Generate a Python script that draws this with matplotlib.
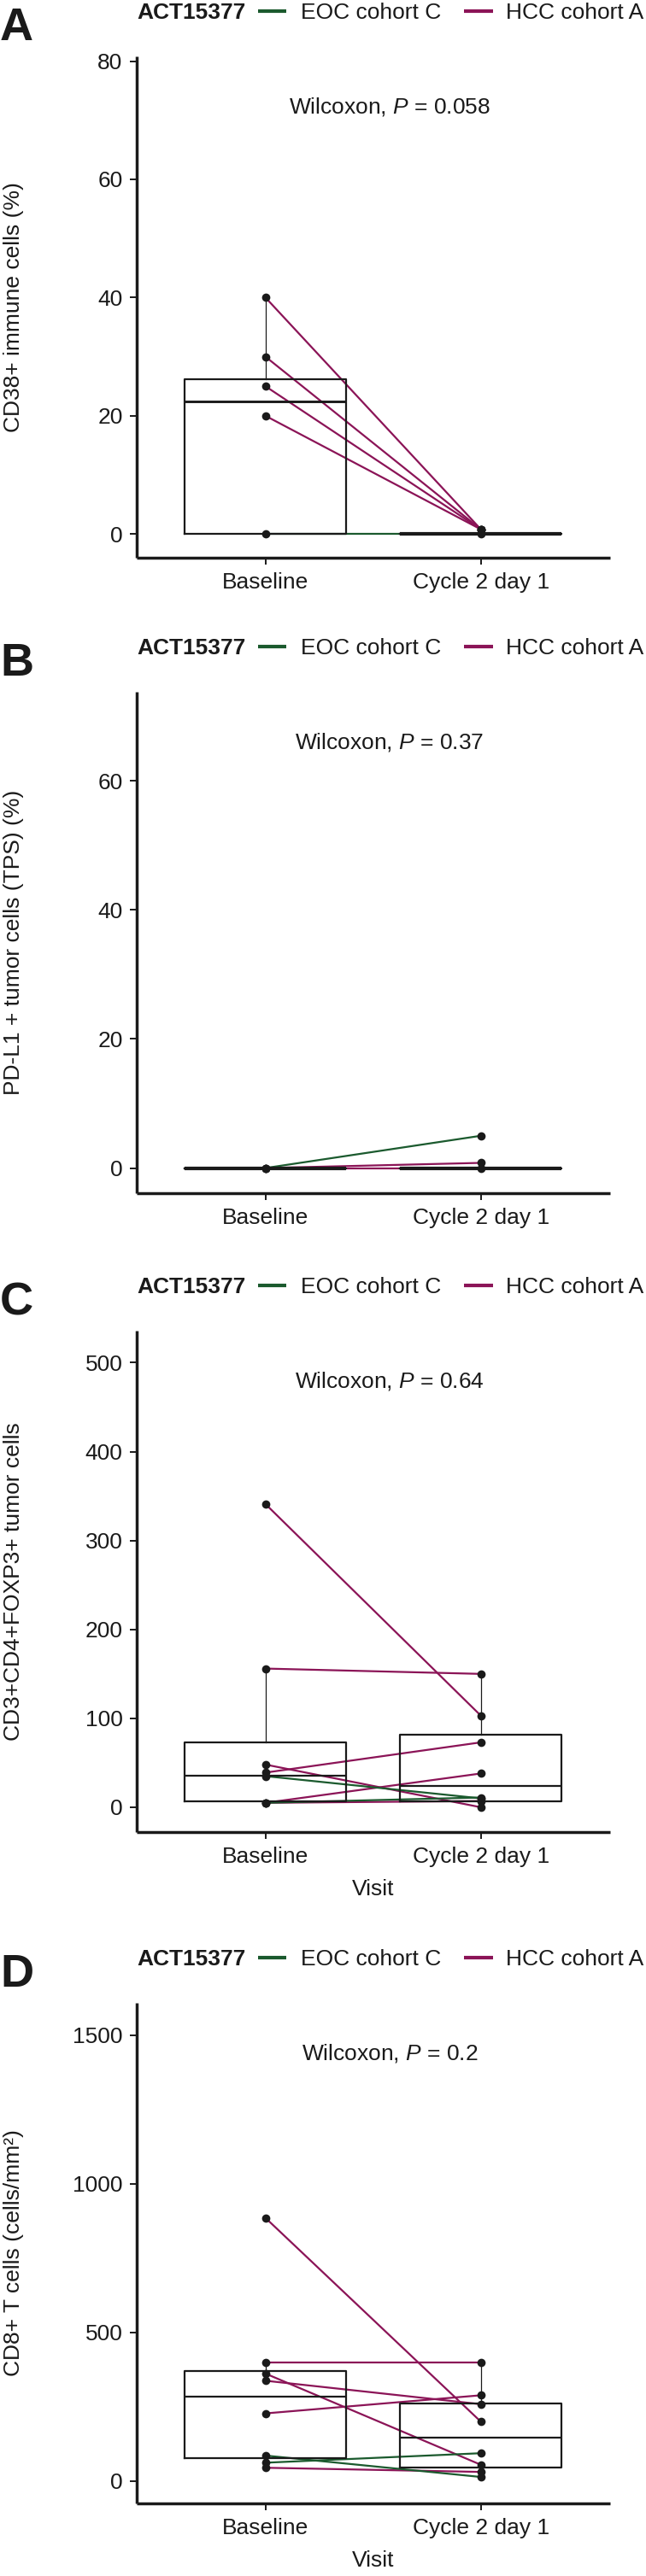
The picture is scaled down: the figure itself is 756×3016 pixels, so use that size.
import matplotlib
matplotlib.use("Agg")
import matplotlib.pyplot as plt
from matplotlib.lines import Line2D

plt.rcParams['font.family'] = ['Liberation Sans', 'DejaVu Sans']
plt.rcParams['mathtext.fontset'] = 'custom'
plt.rcParams['mathtext.it'] = 'Liberation Sans:italic'
plt.rcParams['mathtext.rm'] = 'Liberation Sans'

# ---------------- data ----------------
visits = ['Baseline', 'Cycle 2 day 1']
cohort_names = ['EOC cohort C', 'HCC cohort A']
cohort_colors = {'EOC cohort C': '#1b5a2e', 'HCC cohort A': '#8b1457'}
legend_title = 'ACT15377'

# Panel A: CD38+ immune cells (%)
a_cohort = ['HCC cohort A', 'HCC cohort A', 'HCC cohort A', 'HCC cohort A', 'EOC cohort C']
a_baseline = [40, 30, 25, 20, 0]
a_cycle2 = [0.8, 0.8, 0.8, 0.8, 0]
a_box_baseline = dict(whislo=0, q1=0, med=22.4, q3=26.2, whishi=40)
a_box_cycle2 = dict(whislo=0, q1=0, med=0, q3=0, whishi=0)
a_pvalue = 'Wilcoxon, $P$ = 0.058'
a_ylabel = 'CD38+ immune cells (%)'
a_yticks = [0, 20, 40, 60, 80]

# Panel B: PD-L1 + tumor cells (TPS) (%)
b_cohort = ['EOC cohort C', 'HCC cohort A', 'HCC cohort A']
b_baseline = [0, 0, 0]
b_cycle2 = [5, 0.8, 0]
b_box_baseline = dict(whislo=0, q1=0, med=0, q3=0, whishi=0)
b_box_cycle2 = dict(whislo=0, q1=0, med=0, q3=0, whishi=0)
b_pvalue = 'Wilcoxon, $P$ = 0.37'
b_ylabel = 'PD-L1 + tumor cells (TPS) (%)'
b_yticks = [0, 20, 40, 60]

# Panel C: CD3+CD4+FOXP3+ tumor cells
c_cohort = ['HCC cohort A', 'HCC cohort A', 'HCC cohort A', 'HCC cohort A',
            'HCC cohort A', 'HCC cohort A', 'EOC cohort C', 'EOC cohort C']
c_baseline = [341, 156, 39, 48, 5, 5, 35, 5]
c_cycle2 = [103, 150, 73, 0, 38, 7, 10, 11]
c_box_baseline = dict(whislo=5, q1=6.4, med=35.3, q3=73, whishi=156)
c_box_cycle2 = dict(whislo=0, q1=6.4, med=24, q3=81.5, whishi=150)
c_pvalue = 'Wilcoxon, $P$ = 0.64'
c_ylabel = 'CD3+CD4+FOXP3+ tumor cells'
c_yticks = [0, 100, 200, 300, 400, 500]

# Panel D: CD8+ T cells (cells/mm2)
d_cohort = ['HCC cohort A', 'HCC cohort A', 'HCC cohort A', 'HCC cohort A',
            'HCC cohort A', 'HCC cohort A', 'EOC cohort C', 'EOC cohort C']
d_baseline = [885, 398, 361, 337, 227, 44, 85, 61]
d_cycle2 = [199, 398, 54, 258, 288, 30, 13, 93]
d_box_baseline = dict(whislo=44, q1=75.5, med=283.5, q3=369.5, whishi=398)
d_box_cycle2 = dict(whislo=13, q1=45.8, med=145.5, q3=259.4, whishi=398)
d_pvalue = 'Wilcoxon, $P$ = 0.2'
d_ylabel = 'CD8+ T cells (cells/mm\u00b2)'
d_yticks = [0, 500, 1000, 1500]

# ---------------- layout ----------------
W, H = 756, 3016
fig = plt.figure(figsize=(W / 100, H / 100), dpi=100)

def fx(x):
    return x / W

def fy(y):
    return 1 - y / H

AX_L, AX_R = 159.5, 714
TXT = '#1a1a1a'
FS = 19

panels = [
    dict(letter='A', top=66, bottom=653, ylim=(-4.0, 80.8), cohort=a_cohort, base=a_baseline,
         cyc=a_cycle2, boxes=[a_box_baseline, a_box_cycle2], p=a_pvalue, ylabel=a_ylabel,
         yticks=a_yticks, visit=False, med_lw=[2.1, 3.0]),
    dict(letter='B', top=810, bottom=1397, ylim=(-3.9, 73.8), cohort=b_cohort, base=b_baseline,
         cyc=b_cycle2, boxes=[b_box_baseline, b_box_cycle2], p=b_pvalue, ylabel=b_ylabel,
         yticks=b_yticks, visit=False, med_lw=[3.0, 3.0]),
    dict(letter='C', top=1558, bottom=2145, ylim=(-27.9, 536), cohort=c_cohort, base=c_baseline,
         cyc=c_cycle2, boxes=[c_box_baseline, c_box_cycle2], p=c_pvalue, ylabel=c_ylabel,
         yticks=c_yticks, visit=True, med_lw=[1.6, 1.6]),
    dict(letter='D', top=2345, bottom=2931, ylim=(-76, 1609), cohort=d_cohort, base=d_baseline,
         cyc=d_cycle2, boxes=[d_box_baseline, d_box_cycle2], p=d_pvalue, ylabel=d_ylabel,
         yticks=d_yticks, visit=True, med_lw=[1.6, 1.6]),
]

xpos = [1, 2]

for P in panels:
    ax = fig.add_axes([fx(AX_L), fy(P['bottom']), (AX_R - AX_L) / W, (P['bottom'] - P['top']) / H])
    ax.set_xlim(0.4, 2.6)
    ax.set_ylim(*P['ylim'])

    # paired lines
    for coh, b, c in zip(P['cohort'], P['base'], P['cyc']):
        ax.plot(xpos, [b, c], color=cohort_colors[coh], lw=1.6, zorder=2, solid_capstyle='butt')

    # boxes
    for pos, s, mlw in zip(xpos, P['boxes'], P['med_lw']):
        d = dict(s)
        d['fliers'] = []
        ax.bxp([d], positions=[pos], widths=0.75, showcaps=False, showfliers=False,
               patch_artist=False,
               boxprops=dict(color=TXT, lw=1.6),
               whiskerprops=dict(color=TXT, lw=0.9),
               medianprops=dict(color=TXT, lw=mlw, solid_capstyle='butt'),
               manage_ticks=False, zorder=3)

    # points
    ax.plot([xpos[0]] * len(P['base']), P['base'], 'o', color=TXT, ms=7, zorder=4, mec='none')
    ax.plot([xpos[1]] * len(P['cyc']), P['cyc'], 'o', color=TXT, ms=7, zorder=4, mec='none')

    # axes styling
    for side in ['top', 'right']:
        ax.spines[side].set_visible(False)
    for side in ['left', 'bottom']:
        ax.spines[side].set_linewidth(2.5)
        ax.spines[side].set_color(TXT)
        ax.spines[side].set_capstyle('butt')
    ax.set_xticks(xpos)
    ax.set_xticklabels(visits)
    ax.set_yticks(P['yticks'])
    ax.tick_params(axis='both', length=5.5, width=1.4, color=TXT, labelcolor=TXT,
                   labelsize=FS)
    ax.tick_params(axis='x', pad=6.5)
    ax.tick_params(axis='y', pad=6)
    ax.patch.set_alpha(0)

    # p-value
    ax.text(0.535, 0.9, P['p'], transform=ax.transAxes, ha='center', va='center',
            fontsize=FS, color=TXT)

    # y label
    fig.text(fx(16), fy((P['top'] + P['bottom']) / 2), P['ylabel'], rotation=90,
             ha='center', va='center', fontsize=FS, color=TXT)

    # x label
    if P['visit']:
        fig.text(fx((AX_L + AX_R) / 2), fy(P['bottom'] + 67), 'Visit', ha='center',
                 va='center', fontsize=FS, color=TXT)

    # legend (drawn manually above panel)
    yb = P['top'] - 44
    fig.text(fx(0), fy(yb + 25), P['letter'], fontsize=39, fontweight='bold',
             ha='left', va='baseline', color=TXT)
    fig.text(fx(160), fy(yb), legend_title, fontsize=FS, fontweight='bold',
             ha='left', va='baseline', color=TXT)
    ly = yb - 9
    for (x0, x1, tx), name in zip([(302, 335, 352), (543, 577, 592)], cohort_names):
        fig.add_artist(Line2D([fx(x0), fx(x1)], [fy(ly), fy(ly)], color=cohort_colors[name],
                              lw=3.0, solid_capstyle='butt', transform=fig.transFigure))
        fig.text(fx(tx), fy(yb), name, fontsize=FS, ha='left', va='baseline', color=TXT)

fig.savefig('out.png', dpi=100)
